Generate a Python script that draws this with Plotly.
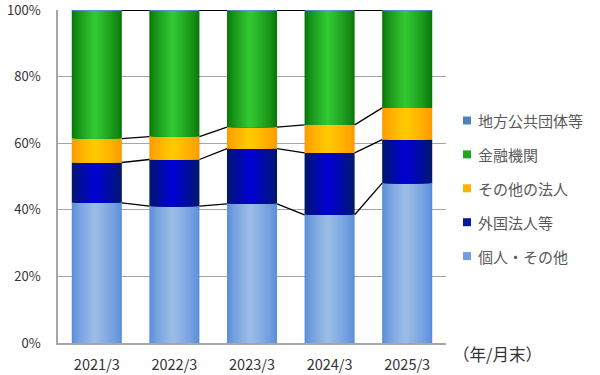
import plotly.graph_objects as go

categories = ["2021/3", "2022/3", "2023/3", "2024/3", "2025/3"]
individuals = [42.1, 41.1, 41.8, 38.5, 48.0]      # 個人・その他
foreign = [12.1, 14.0, 16.6, 18.6, 13.1]          # 外国法人等
other_corp = [7.2, 6.9, 6.4, 8.4, 9.5]            # その他の法人
financial = [38.5, 37.9, 35.1, 34.4, 29.3]        # 金融機関
local_gov = [0.1, 0.1, 0.1, 0.1, 0.1]             # 地方公共団体等
y_ticks = [0, 20, 40, 60, 80, 100]
y_labels = ["0%", "20%", "40%", "60%", "80%", "100%"]

series = [
    ("個人・その他", individuals, ("#5b8fd9", "#9fbfe8"), "#6f9fe0"),
    ("外国法人等", foreign, ("#00186a", "#0000d8"), "#0a1a9a"),
    ("その他の法人", other_corp, ("#ff9a00", "#ffcc00"), "#ffb000"),
    ("金融機関", financial, ("#0a780a", "#35cc35"), "#1fa51f"),
    ("地方公共団体等", local_gov, ("#4a7ebb", "#6a9ad2"), "#4f81bd"),
]

x = list(range(len(categories)))
W = 0.645
K = 14
PEAK = 0.46

PLOT_L, PLOT_R, PLOT_T, PLOT_B = 58, 446, 10, 343
PW, PH = PLOT_R - PLOT_L, PLOT_B - PLOT_T


def px2x(p):
    return (p - PLOT_L) / PW


def px2y(p):
    return (PLOT_B - p) / PH


def hex2rgb(h):
    h = h.lstrip("#")
    return [int(h[i:i + 2], 16) for i in (0, 2, 4)]


def mix(c1, c2, t):
    a, b = hex2rgb(c1), hex2rgb(c2)
    return "rgb(%d,%d,%d)" % tuple(round(a[i] + (b[i] - a[i]) * t) for i in range(3))


fig = go.Figure()

base = [0.0] * len(x)
tops = []
for name, vals, (edge, peak), leg in series:
    for k in range(K):
        s = k / K
        left = s * PEAK
        right = 1 - s * (1 - PEAK)
        width = (right - left) * W
        off = -W / 2 + left * W
        t = (s ** 0.8)
        fig.add_trace(go.Bar(
            x=x, y=vals, base=list(base), width=width, offset=off,
            marker=dict(color=mix(edge, peak, t), line=dict(width=0)),
            showlegend=False, hoverinfo="skip",
        ))
    base = [b + v for b, v in zip(base, vals)]
    tops.append(list(base))

# series connector lines
lx, ly = [], []
for top in tops:
    for i in range(len(x) - 1):
        lx += [x[i] + W / 2, x[i + 1] - W / 2, None]
        ly += [top[i], top[i + 1], None]
fig.add_trace(go.Scatter(x=lx, y=ly, mode="lines", line=dict(color="black", width=1.3),
                         showlegend=False, hoverinfo="skip"))

# hand-drawn legend (top to bottom)
shapes, annotations = [], []
for i, (name, vals, cols, leg) in enumerate(reversed(series)):
    cy = 120.5 + i * 33.9
    shapes.append(dict(type="rect", xref="paper", yref="paper",
                       x0=px2x(463), x1=px2x(471), y0=px2y(cy + 4), y1=px2y(cy - 4),
                       fillcolor=leg, line=dict(width=0)))
    annotations.append(dict(text=name, xref="paper", yref="paper", x=px2x(476), y=px2y(cy),
                            xanchor="left", yanchor="middle", showarrow=False,
                            font=dict(size=15, color="#595959")))

annotations.append(dict(text="（年/月末）", xref="paper", yref="paper", x=px2x(451), y=px2y(354),
                        xanchor="left", yanchor="middle", showarrow=False,
                        font=dict(size=16.5, color="#333333")))

fig.update_layout(
    width=600, height=375,
    margin=dict(l=PLOT_L, r=600 - PLOT_R, t=PLOT_T, b=375 - PLOT_B),
    barmode="overlay",
    showlegend=False,
    plot_bgcolor="white", paper_bgcolor="white",
    font=dict(family="Noto Sans CJK JP, Noto Sans, sans-serif", color="#404040", size=13),
    xaxis=dict(range=[-0.5, 4.5], tickvals=x, ticktext=categories, showgrid=False,
               showline=True, linecolor="#a6a6a6", linewidth=1.5, ticks="",
               ticklabelstandoff=8, zeroline=False, automargin=False,
               ticklabeloverflow="allow", tickfont=dict(size=14.5, color="#333333")),
    yaxis=dict(range=[0, 100], tickvals=y_ticks, ticktext=y_labels, showgrid=True,
               gridcolor="#a6a6a6", gridwidth=1, showline=True, linecolor="#a6a6a6",
               linewidth=1.5, ticks="", ticklabelstandoff=13, zeroline=False,
               automargin=False, ticklabeloverflow="allow",
               tickfont=dict(size=13, color="#333333")),
    shapes=shapes,
    annotations=annotations,
)

fig.write_html("out.html", config={"displayModeBar": False},
               post_script="document.body.style.margin='0';document.body.style.padding='0';"
                           "document.body.style.overflow='hidden';")
